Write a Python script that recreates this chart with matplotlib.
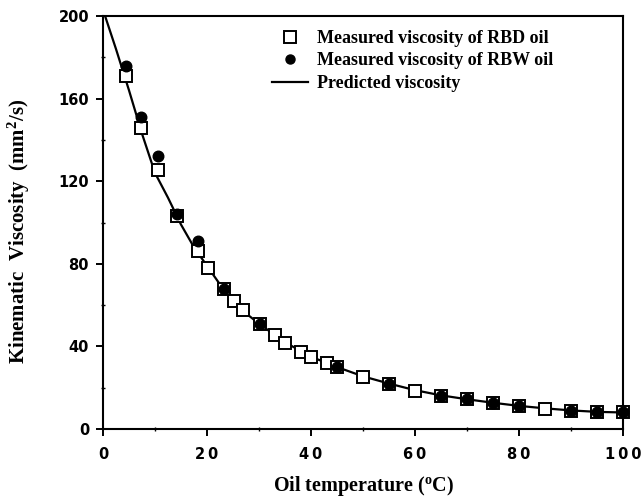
import matplotlib
matplotlib.use("Agg")
import matplotlib.pyplot as plt
from matplotlib.lines import Line2D

# ---- data ----
rbd_temp = [4.5, 7.3, 10.5, 14.3, 18.3, 20.2, 23.3, 25.2, 27, 30.2, 33, 35, 38, 40, 43, 45,
            50, 55, 60, 65, 70, 75, 80, 85, 90, 95, 100]
rbd_visc = [171, 146, 125.5, 103, 86, 78, 68, 62, 57.5, 51, 45.5, 41.5, 37.5, 35, 31.8, 30.2,
            25.3, 21.8, 18.5, 16.1, 14.4, 12.8, 11.1, 9.7, 8.9, 8.1, 8.1]
rbw_temp = [4.5, 7.3, 10.5, 14.3, 18.3, 23.3, 30.2, 45, 55, 65, 70, 75, 80, 90, 95, 100]
rbw_visc = [176, 151, 132, 104, 91, 68, 51, 30.2, 21.8, 16.1, 14.4, 12.8, 11.1, 8.9, 8.1, 8.1]
pred_temp = [0.4, 2.5, 5, 7.5, 10, 12.5, 15, 17.5, 20, 22.5, 25, 27.5, 30, 35, 40, 45, 50,
             55, 60, 65, 70, 75, 80, 85, 90, 95, 100]
pred_visc = [200, 184, 164, 143, 124, 112, 99, 88, 79, 70, 62, 56, 51, 42, 35, 30, 25.5,
             22, 18.8, 16.3, 14.4, 12.7, 11.2, 10.0, 9.0, 8.3, 8.0]
xticks = [0, 20, 40, 60, 80, 100]
xtick_labels = ["0", "2\u20090", "4\u20090", "6\u20090", "8\u20090", "1\u20090\u20090"]
yticks = [0, 40, 80, 120, 160, 200]
legend_labels = ["Measured viscosity of RBD oil", "Measured viscosity of RBW oil",
                 "Predicted viscosity"]

plt.rcParams["mathtext.fontset"] = "custom"
plt.rcParams["mathtext.rm"] = "Liberation Serif:bold"
plt.rcParams["mathtext.it"] = "Liberation Serif:bold:italic"
plt.rcParams["mathtext.bf"] = "Liberation Serif:bold"

fig = plt.figure(figsize=(6.41, 5.00), dpi=100)
ax = fig.add_axes([103/641, 71/500, 520/641, 413/500])

ax.plot(pred_temp, pred_visc, color="black", lw=1.6, zorder=2, clip_on=True)
ax.plot(rbd_temp, rbd_visc, ls="none", marker="s", ms=8.5, mfc="white", mec="black",
        mew=1.4, zorder=3, clip_on=False)
ax.plot(rbw_temp, rbw_visc, ls="none", marker="o", ms=7.6, mfc="black", mec="black",
        zorder=4, clip_on=False)

ax.set_xlim(0, 100)
ax.set_ylim(0, 200)
ax.set_xticks(xticks)
ax.set_xticklabels(xtick_labels)
ax.set_yticks(yticks)
ax.set_xticks([10, 30, 50, 70, 90], minor=True)
ax.set_yticks([20, 60, 100, 140, 180], minor=True)

for sp in ax.spines.values():
    sp.set_linewidth(1.5)

ax.tick_params(axis="both", which="major", direction="out", length=5, width=1.4,
               labelsize=10.5, pad=5)
ax.tick_params(axis="x", which="major", pad=8)
ax.tick_params(axis="both", which="minor", direction="inout", length=3, width=1.0)
for lab in ax.get_xticklabels() + ax.get_yticklabels():
    lab.set_fontfamily("DejaVu Sans")
    lab.set_fontweight("bold")

ax.set_xlabel(r"Oil temperature ($^{\mathrm{o}}$C)", fontfamily="Liberation Serif",
              fontweight="bold", fontsize=14.5)
ax.xaxis.set_label_coords(0.5, -(486 - 429) / 413)
ax.xaxis.label.set_va("center")
ax.set_ylabel(r"Kinematic  Viscosity  (mm$^{2}$/s)", fontfamily="Liberation Serif",
              fontweight="bold", fontsize=15)
ax.yaxis.set_label_coords(-(103 - 19) / 520, (429 - 231) / 413)
ax.yaxis.label.set_va("center")

handles = [
    Line2D([], [], ls="none", marker="s", ms=8, mfc="white", mec="black", mew=1.4),
    Line2D([], [], ls="none", marker="o", ms=6.5, mfc="black", mec="black"),
    Line2D([], [], color="black", lw=1.6),
]
leg = ax.legend(handles, legend_labels, loc="upper left",
                bbox_to_anchor=((272 - 103) / 520, 1 - (30 - 16) / 413),
                frameon=False, handlelength=2.0, handletextpad=0.5, labelspacing=0.3,
                borderpad=0, borderaxespad=0,
                prop={"family": "Liberation Serif", "weight": "bold", "size": 13})

fig.savefig("out.png", dpi=100)
